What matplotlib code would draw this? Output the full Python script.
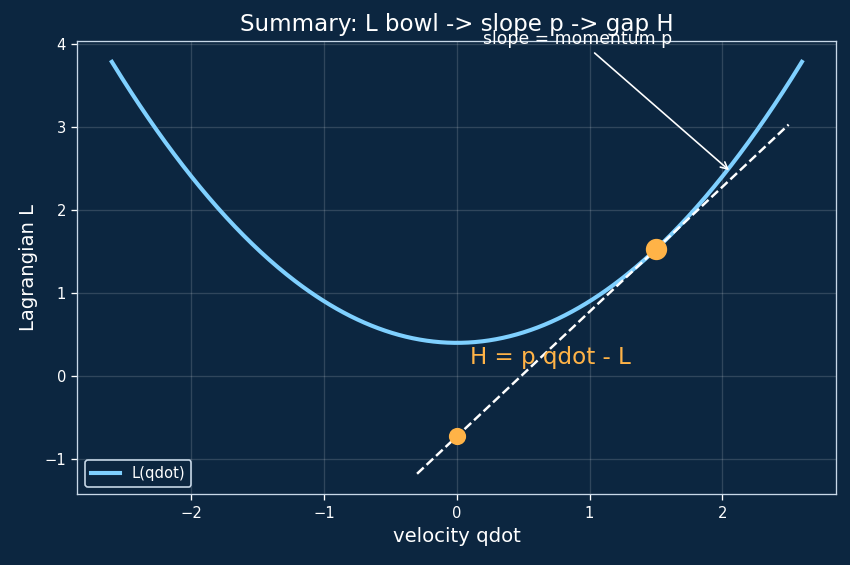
import numpy as np
import matplotlib
matplotlib.use("Agg")
import matplotlib.pyplot as plt

# Data / parameters of the function drawn
qdot_range = [-2.6, 2.6]
mass = 1.0
offset = 0.4
q0 = 1.5
tangent_range = [-0.3, 2.5]
arrow_xy = (2.07, 2.45)
text_xy = (0.2, 4.0)
h_text_xy = (0.1, 0.15)
title = "Summary: L bowl -> slope p -> gap H"

bg = "#0c2640"
fg = "white"

def L(v):
    return 0.5 * mass * v**2 + offset

v = np.linspace(qdot_range[0], qdot_range[1], 400)
p = mass * q0
Lq0 = L(q0)
vt = np.linspace(tangent_range[0], tangent_range[1], 50)
tangent = Lq0 + p * (vt - q0)
intercept = Lq0 - p * q0

dpi = 118
fig = plt.figure(figsize=(850 / dpi, 565 / dpi), dpi=dpi, facecolor=bg)
ax = fig.add_axes([0.091, 0.125, 0.893, 0.802])
ax.set_facecolor(bg)

ax.plot(v, L(v), color="#7fd0ff", lw=2.5, label="L(qdot)")
ax.plot(vt, tangent, color="white", lw=1.5, ls="--")
ax.plot([q0], [Lq0], "o", color="#ffb347", ms=12, zorder=5)
ax.plot([0], [intercept], "o", color="#ffb347", ms=9.5, zorder=5)

ax.text(h_text_xy[0], h_text_xy[1], "H = p qdot - L", color="#ffb347", fontsize=14)
ax.annotate("slope = momentum p", xy=arrow_xy, xytext=text_xy,
            color=fg, fontsize=10.5,
            arrowprops=dict(arrowstyle="->", color=fg, lw=1.0))

ax.set_title(title, color=fg, fontsize=14)
ax.set_xlabel("velocity qdot", color=fg, fontsize=12)
ax.set_ylabel("Lagrangian L", color=fg, fontsize=12)
ax.tick_params(colors=fg, labelsize=9)
for s in ax.spines.values():
    s.set_color("#c8d8e8")
ax.grid(True, color="white", alpha=0.15, lw=0.8)
leg = ax.legend(loc="lower left", facecolor=bg, edgecolor="#c8d8e8", fontsize=9, framealpha=1)
for t in leg.get_texts():
    t.set_color(fg)

fig.savefig("out.png", dpi=dpi, facecolor=bg)
